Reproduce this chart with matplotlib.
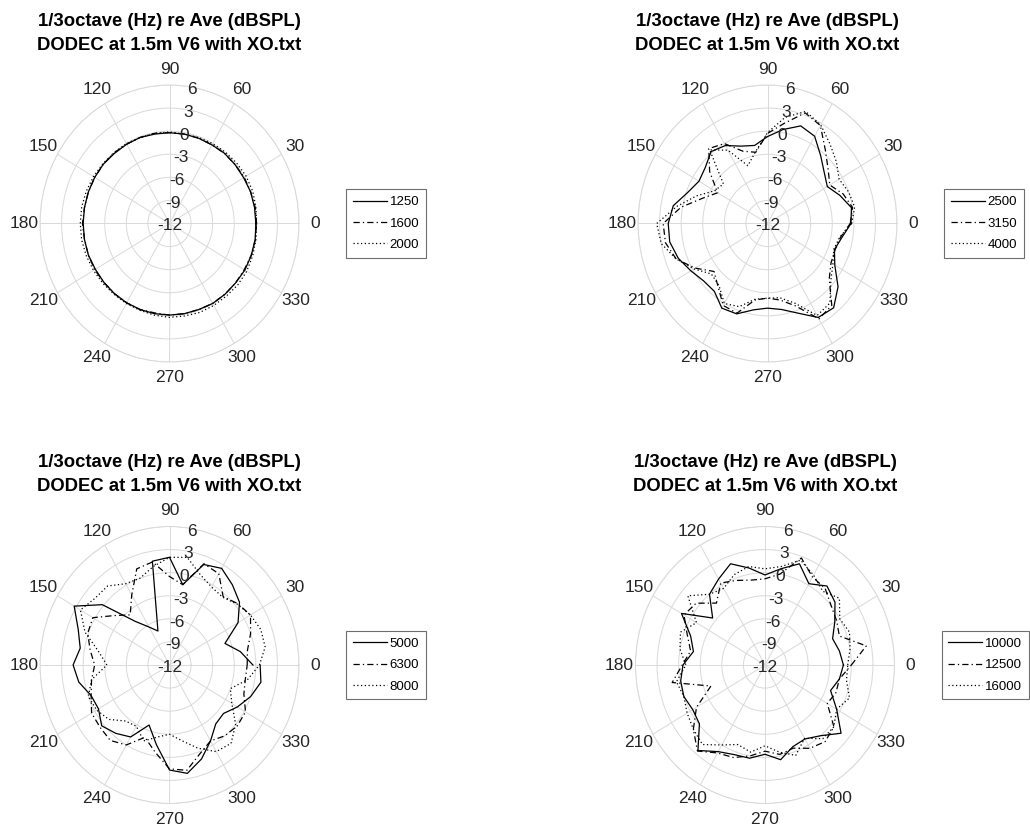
import numpy as np
import matplotlib.pyplot as plt
from matplotlib.transforms import offset_copy

plt.rcParams['font.family'] = ['Liberation Sans', 'DejaVu Sans']

# measurement angles (deg), 0..360 in 10 deg steps
angles_deg = np.arange(0, 370, 10)

title_text = '1/3octave (Hz) re Ave (dBSPL)\nDODEC at 1.5m V6 with XO.txt'

r_ticks = [-12, -9, -6, -3, 0, 3, 6]
theta_ticks = list(range(0, 360, 30))

# level re average (dB) per 1/3-octave band
bands_a = ['1250', '1600', '2000']
spl_1250 = [0.0, 0.0, 0.0, -0.1, -0.1, -0.1, -0.2, -0.2, -0.2, -0.2, -0.2, -0.1, -0.1,
            -0.1, 0.0, 0.0, 0.0, 0.0, 0.0, 0.0, 0.0, -0.1, -0.1, -0.1, -0.1, -0.1,
            -0.1, -0.1, -0.1, -0.1, 0.0, 0.0, 0.0, 0.1, 0.1, 0.1, 0.0]
spl_1600 = [0.1, 0.1, 0.0, 0.0, -0.1, -0.1, -0.2, -0.2, -0.2, -0.2, -0.1, -0.1, -0.1,
            0.0, 0.0, 0.0, 0.0, 0.0, 0.1, 0.0, 0.0, 0.0, -0.1, -0.1, -0.1, -0.1,
            -0.2, -0.1, -0.1, -0.1, 0.0, 0.0, 0.0, 0.0, 0.1, 0.1, 0.1]
spl_2000 = [0.1, 0.2, 0.3, 0.3, 0.2, 0.1, 0.0, -0.1, -0.2, -0.1, -0.1, -0.1, 0.0,
            0.0, 0.1, 0.2, 0.3, 0.4, 0.4, 0.4, 0.3, 0.2, 0.1, 0.0, 0.0, 0.0,
            0.1, 0.2, 0.2, 0.3, 0.3, 0.3, 0.4, 0.4, 0.3, 0.2, 0.1]

bands_b = ['2500', '3150', '4000']
spl_2500 = [-0.4, -0.15, -1.3, -2.4, -1.7, -0.5, 1.1, 1.5, 0.4, -0.7, -1.7, -1.3, -0.3,
            0.2, -0.7, -1.0, -0.2, 1.3, 1.8, 1.8, 1.2, 0.3, -0.4, -0.5, 0.7, 0.5,
            -0.6, -1.0, -0.65, 0.4, 2.1, 2.3, 0.8, -1.2, -2.1, -1.5, -0.4]
spl_3150 = [-0.5, 0.0, -0.8, -2.0, -1.0, 0.5, 2.7, 3.3, 1.2, -0.3, -2.6, -2.0, 0.0,
            0.7, -1.5, -4.0, -2.4, 0.2, 2.5, 2.4, 1.5, -0.4, -2.3, -1.3, 0.3, 0.4,
            -1.9, -2.3, -1.9, -0.6, 2.3, 1.9, -0.8, -1.8, -2.0, -1.7, -0.5]
spl_4000 = [-0.3, 0.3, 0.0, -0.5, 0.5, 1.5, 2.8, 3.5, 2.0, -0.2, -2.5, -4.0, -1.0,
            0.5, -4.0, -3.5, -1.5, 0.8, 3.4, 3.0, 1.5, -0.2, -1.8, -1.5, 0.0, -0.5,
            -2.0, -2.3, -2.2, -1.0, 1.8, 1.5, -0.5, -1.5, -2.2, -1.8, -0.3]

bands_c = ['5000', '6300', '8000']
spl_5000 = [-0.4, -2.0, -3.8, -1.0, 0.7, 1.6, 2.5, 1.9, -1.4, 2.0, 1.7, -7.3, -6.3,
            -4.6, 0.2, 3.3, 1.5, 0.6, 1.4, 0.8, -0.4, -0.6, 0.3, -0.4, -1.2, -3.7,
            -1.5, 1.65, 2.3, 1.0, -0.6, -2.0, -2.2, -1.1, 0.0, 0.9, 0.6]
spl_6300 = [-1.2, -1.0, 0.0, 1.0, 0.4, -0.4, 1.7, 2.0, -1.4, -0.5, 1.6, 1.3, -1.5,
            -3.5, -2.0, 0.3, 0.1, -0.8, -1.6, -1.0, -0.4, 0.5, 0.6, 0.8, 0.0, -2.0,
            -0.5, 1.5, 1.9, 0.3, -0.6, 0.0, 0.3, 0.2, -1.0, -1.3, -1.2]
spl_8000 = [0.5, 1.5, 1.5, 1.0, 0.3, -0.5, -0.3, 0.5, 2.2, 2.0, 1.0, 0.0, 0.2,
            1.4, 1.5, 2.3, 0.5, -2.0, -3.3, -1.0, 0.0, -0.3, -1.0, -2.5, -2.8, -1.5,
            -2.5, -3.0, -2.0, -0.5, 1.0, 1.3, 0.0, -2.0, -3.0, -1.0, 0.5]

bands_d = ['10000', '12500', '16000']
spl_10000 = [-1.1, -1.5, -2.0, -0.8, 0.7, 1.4, 0.2, 2.0, 0.7, -0.3, 0.8, 2.0, 0.9,
             0.0, -2.5, 1.4, -1.0, -1.9, -0.6, -0.1, 0.0, -0.4, -0.1, 2.5, 1.0, 0.4,
             0.3, -0.4, 0.5, -0.7, -0.9, 0.0, 1.8, -0.5, -2.3, -1.5, -1.1]
spl_12500 = [0.0, 2.3, -1.0, -0.5, 0.0, 1.0, 1.2, 2.8, 0.0, -0.8, -0.8, -0.3, 0.3,
             -1.5, 0.5, 1.0, -0.5, -1.5, -0.5, 1.1, -4.0, -1.0, 1.0, 2.6, 1.2, 0.8,
             0.0, -0.8, -0.2, -0.5, 0.5, 1.0, 0.5, -2.0, -1.5, -1.5, 0.0]
spl_16000 = [-0.5, 0.0, 0.5, 0.0, 1.5, 0.5, 1.5, 2.5, 1.0, 0.5, 1.0, 0.5, -0.5,
             0.0, 2.0, -1.0, 0.5, 0.0, -1.0, 0.5, 0.0, 0.5, 1.0, 1.5, 0.0, -1.0,
             -0.5, -1.5, -0.5, 0.5, -1.0, 0.5, 0.5, -0.5, 0.5, -0.5, -0.5]

styles = [dict(ls='-'),
          dict(ls=(0, (5, 2.5, 1, 2.5))),
          dict(ls=(0, (1, 2)))]

W, H = 1030, 833
fig = plt.figure(figsize=(W / 100, H / 100), dpi=100)


def polar_panel(x0, y_top, bands, series):
    # axes box given in pixels (left, top), size 259 x 277
    w, h = 259, 277
    ax = fig.add_axes([x0 / W, (H - y_top - h) / H, w / W, h / H], projection='polar')
    ax.set_aspect('auto')
    theta = np.deg2rad(angles_deg)
    for band, spl, st in zip(bands, series, styles):
        ax.plot(theta, spl, color='black', lw=0.9, label=band, **st)
    ax.set_ylim(-12, 6)
    ax.set_yticks(r_ticks)
    ax.set_yticklabels([])
    ax.set_thetagrids(theta_ticks, [str(t) for t in theta_ticks],
                      fontsize=12.5, color='#262626')
    ax.tick_params(axis='x', pad=4.5, length=0)
    ax.tick_params(axis='y', length=0)
    ax.grid(color='#d9d9d9', lw=0.7)
    ax.spines['polar'].set_color('#d9d9d9')
    ax.spines['polar'].set_linewidth(0.7)
    # radial labels along the 80 deg spoke, nudged a little downward
    r_trans = offset_copy(ax.transData, fig=fig, y=-2.5, units='dots')
    for r in r_ticks:
        ax.text(np.deg2rad(80), r, str(r), transform=r_trans, ha='center',
                va='center', fontsize=12.5, color='#262626')
    ax.text(0.5, 1.112, title_text, transform=ax.transAxes, ha='center',
            va='bottom', fontsize=13.3, fontweight='bold', linespacing=1.55)
    leg = ax.legend(loc='center left', bbox_to_anchor=(1 + 47 / w, 0.5),
                    fontsize=9.5, frameon=True, fancybox=False, framealpha=1,
                    edgecolor='#6e6e6e', handlelength=2.6, handletextpad=0.2,
                    borderpad=0.5, labelspacing=0.7, borderaxespad=0)
    leg.get_frame().set_linewidth(0.8)
    return ax


polar_panel(40, 85, bands_a, [spl_1250, spl_1600, spl_2000])
polar_panel(638, 85, bands_b, [spl_2500, spl_3150, spl_4000])
polar_panel(40, 526.5, bands_c, [spl_5000, spl_6300, spl_8000])
polar_panel(635.5, 526.5, bands_d, [spl_10000, spl_12500, spl_16000])

fig.savefig('out.png', dpi=100, facecolor='white')
